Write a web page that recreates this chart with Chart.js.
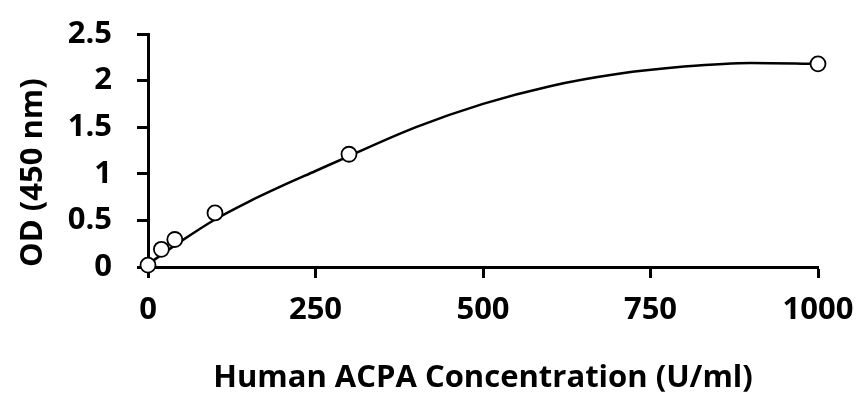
<!DOCTYPE html>
<html>
<head>
<meta charset="utf-8">
<script src="https://cdn.jsdelivr.net/npm/chart.js@4"></script>
<style>
  html, body { margin: 0; padding: 0; background: #fff; }
  #wrap { width: 860px; height: 399px; }
</style>
</head>
<body>
<div id="wrap"><canvas id="odChart"></canvas></div>
<script>
// measured standards
var concX = [0, 20, 40, 100, 300, 1000];
var odY = [0.02, 0.19, 0.295, 0.58, 1.21, 2.18];

// trendline
var fitX = [0, 50, 100, 150, 200, 250, 300, 400, 500, 600, 700, 800, 900, 1000];
var fitY = [0.03, 0.28, 0.51, 0.70, 0.87, 1.03, 1.19, 1.50, 1.75, 1.94, 2.07, 2.15, 2.19, 2.18];

var xTicks = [0, 250, 500, 750, 1000];
var yTicks = [0, 0.5, 1, 1.5, 2, 2.5];

var fontFamily = '"Open Sans", sans-serif';

var ctx = document.getElementById('odChart');

var chart = new Chart(ctx, {
    type: 'scatter',
    data: {
        datasets: [
            {
                label: 'fit',
                data: fitX.map((x, i) => ({ x: x, y: fitY[i] })),
                showLine: true,
                borderColor: '#000',
                borderWidth: 2.5,
                pointRadius: 0,
                cubicInterpolationMode: 'monotone',
                fill: false,
                clip: false,
                order: 2
            },
            {
                label: 'OD',
                data: concX.map((x, i) => ({ x: x, y: odY[i] })),
                showLine: false,
                pointRadius: 7.5,
                pointBorderWidth: 1.8,
                pointBorderColor: '#000',
                pointBackgroundColor: '#fff',
                clip: false,
                order: 1
            }
        ]
    },
    options: {
        responsive: true,
        maintainAspectRatio: false,
        animation: false,
        layout: {
            padding: { top: 34, right: 42, left: 0, bottom: 0 }
        },
        scales: {
            x: {
                type: 'linear',
                min: 0,
                max: 1000,
                afterBuildTicks: (scale) => { scale.ticks = xTicks.map(v => ({ value: v })); },
                afterFit: (scale) => {
                    scale.height = 132;
                    scale.paddingLeft = 0;
                    scale.paddingRight = 0;
                },
                border: { display: true, color: '#000', width: 3 },
                grid: {
                    display: true,
                    drawOnChartArea: false,
                    drawTicks: true,
                    tickLength: 11,
                    tickColor: '#000',
                    tickWidth: 3
                },
                ticks: {
                    color: '#000',
                    padding: 14,
                    maxRotation: 0,
                    callback: (v) => String(v),
                    font: { family: fontFamily, size: 31, weight: 'bold' }
                },
                title: {
                    display: true,
                    text: 'Human ACPA Concentration (U/ml)',
                    color: '#000',
                    padding: { top: 0, bottom: 2 },
                    font: { family: fontFamily, size: 31, weight: 'bold' }
                }
            },
            y: {
                type: 'linear',
                min: 0,
                max: 2.5,
                afterBuildTicks: (scale) => { scale.ticks = yTicks.map(v => ({ value: v })); },
                afterFit: (scale) => {
                    scale.width = 148;
                    scale.paddingTop = 0;
                    scale.paddingBottom = 0;
                },
                border: { display: true, color: '#000', width: 3 },
                grid: {
                    display: true,
                    drawOnChartArea: false,
                    drawTicks: true,
                    tickLength: 11,
                    tickColor: '#000',
                    tickWidth: 3
                },
                ticks: {
                    color: '#000',
                    padding: 25,
                    callback: (v) => String(v),
                    font: { family: fontFamily, size: 31, weight: 'bold' }
                },
                title: {
                    display: true,
                    text: 'OD (450 nm)',
                    align: 'start',
                    color: '#000',
                    padding: { top: 15, bottom: 0 },
                    font: { family: fontFamily, size: 31, weight: 'bold' }
                }
            }
        },
        plugins: {
            legend: { display: false },
            tooltip: { enabled: false }
        }
    }
});
</script>
</body>
</html>
